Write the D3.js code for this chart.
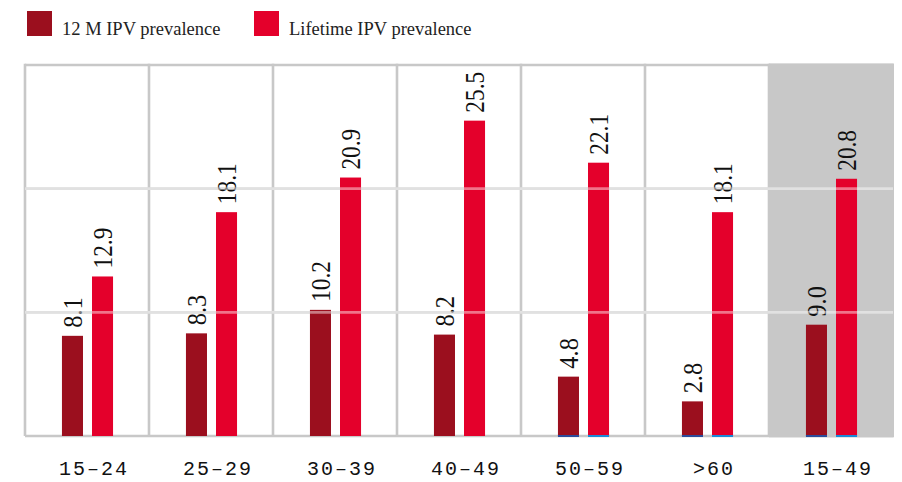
<!DOCTYPE html>
<html>
<head>
<meta charset="utf-8">
<script src="https://cdn.jsdelivr.net/npm/d3@7"></script>
<style>
  body { margin: 0; background: #fff; }
</style>
</head>
<body>
<script>
// data
var ageGroups = ["15\u201324", "25\u201329", "30\u201339", "40\u201349", "50\u201359", ">60", "15\u201349"];
var prev12m = [8.1, 8.3, 10.2, 8.2, 4.8, 2.8, 9.0];
var prevLifetime = [12.9, 18.1, 20.9, 25.5, 22.1, 18.1, 20.8];
var seriesNames = ["12 M IPV prevalence", "Lifetime IPV prevalence"];
var seriesColors = ["#9b0f1e", "#e4002b"];
var gridTicks = [0, 10, 20, 30];
var highlightGroup = "15\u201349";
var blueBaseGroups = ["50\u201359", ">60", "15\u201349"];

var margin = {top: 65, left: 25, right: 9, bottom: 46},
  width = 902 - margin.left - margin.right,
  height = 482 - margin.top - margin.bottom;

var rows = ageGroups.map(function(g, i) {
  return {group: g, values: [prev12m[i], prevLifetime[i]]};
});

var svg = d3.select("body").append("svg")
  .attr("width", 902)
  .attr("height", 482);

var g = svg.append("g")
  .attr("transform", "translate(" + margin.left + "," + margin.top + ")");

var x = d3.scaleBand().domain(ageGroups).range([0, width]);
var bw = x.bandwidth();
var xs = d3.scaleBand().domain([0, 1]).range([bw * 0.298, bw * 0.71]).paddingInner(0.3);
var y = d3.scaleLinear().domain([0, 30]).range([height, 0]);

//grey grid behind everything
g.selectAll(".hgrid").data(gridTicks).enter().append("line")
  .attr("x1", 0).attr("x2", width)
  .attr("y1", function(d) { return y(d); })
  .attr("y2", function(d) { return y(d); })
  .attr("stroke", "#c8c8c8").attr("stroke-width", 2.6);

g.selectAll(".vgrid").data(ageGroups).enter().append("line")
  .attr("x1", function(d) { return x(d); })
  .attr("x2", function(d) { return x(d); })
  .attr("y1", y(30) - 1.3).attr("y2", y(0))
  .attr("stroke", "#c8c8c8").attr("stroke-width", 2.6);

//highlighted column
g.append("rect")
  .attr("x", x(highlightGroup))
  .attr("y", y(30) - 1.5)
  .attr("width", bw + 1)
  .attr("height", y(0) - y(30) + 2.8)
  .attr("fill", "#c8c8c8");

//bars
var groups = g.selectAll(".grp").data(rows).enter().append("g")
  .attr("transform", function(d) { return "translate(" + x(d.group) + ",0)"; });

groups.selectAll("rect").data(function(d) { return d.values; }).enter().append("rect")
  .attr("x", function(d, i) { return xs(i); })
  .attr("y", function(d) { return y(d); })
  .attr("width", xs.bandwidth())
  .attr("height", function(d) { return y(0) - y(d); })
  .attr("fill", function(d, i) { return seriesColors[i]; });

//light lines over bars and band
g.selectAll(".hgrid2").data(gridTicks.slice(1, 3)).enter().append("line")
  .attr("x1", 0).attr("x2", width)
  .attr("y1", function(d) { return y(d); })
  .attr("y2", function(d) { return y(d); })
  .attr("stroke", "rgba(255,255,255,0.45)").attr("stroke-width", 2.6);

//thin blue bottoms on the last columns
groups.filter(function(d) { return blueBaseGroups.indexOf(d.group) >= 0; })
  .selectAll(".base").data(function(d) { return d.values; }).enter().append("rect")
  .attr("x", function(d, i) { return xs(i); })
  .attr("y", y(0) - 1)
  .attr("width", xs.bandwidth())
  .attr("height", 2)
  .attr("fill", function(d, i) { return i === 0 ? "#2b4c9b" : "#1a8ad8"; });

//value labels, rotated
groups.selectAll(".val").data(function(d) { return d.values; }).enter().append("text")
  .attr("transform", function(d, i) {
    return "translate(" + (xs(i) + xs.bandwidth() / 2) + "," + (y(d) - 8) + ") rotate(-90)";
  })
  .attr("dy", "0.36em")
  .attr("font-family", "Liberation Serif, serif")
  .attr("font-size", 27)
  .attr("textLength", function(d) { return d.toFixed(1).length * 10.2; })
  .attr("lengthAdjust", "spacingAndGlyphs")
  .attr("fill", "#111")
  .text(function(d) { return d.toFixed(1); });

//x axis labels
g.selectAll(".xlab").data(ageGroups).enter().append("text")
  .attr("x", function(d) { return x(d) + bw / 2 + 7; })
  .attr("y", height + 39)
  .attr("text-anchor", "middle")
  .attr("font-family", "Liberation Mono, monospace")
  .attr("font-size", 20)
  .attr("letter-spacing", 2)
  .attr("fill", "#111")
  .text(function(d) { return d; });

//legend
var legendX = [27, 254];
var legend = svg.selectAll(".leg").data(seriesNames).enter().append("g")
  .attr("transform", function(d, i) { return "translate(" + legendX[i] + ",11)"; });

legend.append("rect")
  .attr("width", 25).attr("height", 25)
  .attr("fill", function(d, i) { return seriesColors[i]; });

legend.append("text")
  .attr("x", 35).attr("y", 24)
  .attr("font-family", "Liberation Serif, serif")
  .attr("font-size", 18.5)
  .attr("fill", "#222")
  .text(function(d) { return d; });
</script>
</body>
</html>
